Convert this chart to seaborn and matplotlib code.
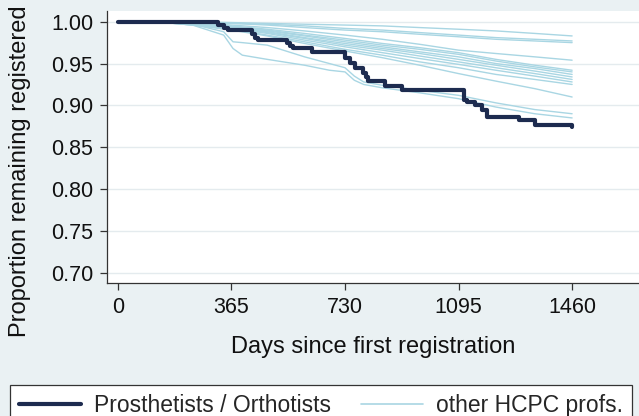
import numpy as np
import pandas as pd
import seaborn as sns
import matplotlib.pyplot as plt
from matplotlib.lines import Line2D

# Kaplan-Meier: Prosthetists / Orthotists (step points)
po_days = [0, 322, 340, 355, 430, 440, 451, 542, 553, 564, 623, 730, 745, 762, 789, 797,
           805, 858, 912, 1111, 1122, 1149, 1170, 1186, 1288, 1341, 1460]
po_surv = [1.0, 0.996, 0.993, 0.990, 0.985, 0.981, 0.978, 0.974, 0.971, 0.968, 0.964, 0.957,
           0.951, 0.945, 0.939, 0.934, 0.929, 0.923, 0.918, 0.906, 0.904, 0.900, 0.894,
           0.886, 0.882, 0.877, 0.874]

# other HCPC professions
grid_days = [0, 120, 240, 365, 480, 600, 730, 850, 970, 1095, 1215, 1340, 1460]
top1 = [1, 1, 1.000, 0.999, 0.998, 0.997, 0.996, 0.995, 0.993, 0.991, 0.989, 0.986, 0.983]
top2 = [1, 1, 0.999, 0.998, 0.997, 0.995, 0.992, 0.990, 0.987, 0.984, 0.981, 0.979, 0.977]
top3 = [1, 1, 0.999, 0.998, 0.996, 0.993, 0.990, 0.988, 0.985, 0.982, 0.979, 0.977, 0.975]
mid0 = [1, 1, 0.999, 0.996, 0.993, 0.989, 0.984, 0.979, 0.973, 0.966, 0.962, 0.958, 0.954]
mid1 = [1, 1, 0.998, 0.995, 0.991, 0.986, 0.980, 0.974, 0.969, 0.963, 0.955, 0.948, 0.942]
mid2 = [1, 1, 0.998, 0.994, 0.990, 0.984, 0.978, 0.972, 0.967, 0.961, 0.953, 0.946, 0.940]
mid3 = [1, 1, 0.998, 0.994, 0.989, 0.983, 0.976, 0.970, 0.964, 0.958, 0.950, 0.944, 0.937]
mid4 = [1, 1, 0.997, 0.993, 0.988, 0.981, 0.974, 0.968, 0.962, 0.955, 0.948, 0.941, 0.934]
mid5 = [1, 1, 0.997, 0.993, 0.987, 0.980, 0.972, 0.966, 0.959, 0.952, 0.945, 0.938, 0.931]
mid6 = [1, 1, 0.997, 0.992, 0.986, 0.978, 0.970, 0.963, 0.956, 0.949, 0.942, 0.935, 0.928]
mid7 = [1, 1, 0.996, 0.991, 0.984, 0.976, 0.967, 0.960, 0.952, 0.945, 0.937, 0.931, 0.925]
mid8 = [1, 1, 0.996, 0.990, 0.983, 0.974, 0.965, 0.957, 0.948, 0.938, 0.929, 0.920, 0.910]

low_days = [0, 120, 240, 340, 370, 400, 480, 600, 680, 730, 760, 790, 850, 970, 1095, 1215, 1340, 1460]
low1 = [1, 1, 0.997, 0.988, 0.976, 0.975, 0.972, 0.958, 0.950, 0.945, 0.935, 0.928, 0.924,
        0.918, 0.912, 0.903, 0.895, 0.890]
low2 = [1, 1, 0.996, 0.984, 0.968, 0.960, 0.955, 0.948, 0.942, 0.940, 0.930, 0.925, 0.921,
        0.915, 0.908, 0.898, 0.890, 0.885]

x_ticks = [0, 365, 730, 1095, 1460]
y_ticks = [0.70, 0.75, 0.80, 0.85, 0.90, 0.95, 1.00]

bg = '#eaf1f3'
navy = '#1d2b4f'
light = '#a9d6e3'

sns.set_theme(style='white')
plt.rcParams['font.family'] = ['Liberation Sans', 'DejaVu Sans']

# langes Format fuer seaborn
frames = []
for i, vals in enumerate([top1, top2, top3, mid0, mid1, mid2, mid3, mid4, mid5, mid6, mid7, mid8]):
    frames.append(pd.DataFrame({'day': grid_days, 'surv': vals, 'curve': i}))
for i, vals in enumerate([low1, low2]):
    frames.append(pd.DataFrame({'day': low_days, 'surv': vals, 'curve': 100 + i}))
others = pd.concat(frames, ignore_index=True)
po = pd.DataFrame({'day': po_days, 'surv': po_surv})

fig = plt.figure(figsize=(6.39, 4.16), dpi=100, facecolor=bg)
ax = fig.add_axes([107 / 639, 1 - 283 / 416, 1 - 107 / 639, (283 - 10.5) / 416])
ax.set_facecolor('white')

sns.lineplot(data=others, x='day', y='surv', units='curve', estimator=None,
             color=light, lw=1.0, ax=ax, legend=False)
sns.lineplot(data=po, x='day', y='surv', color=navy, lw=3.0, drawstyle='steps-post',
             ax=ax, legend=False)

ax.set_xlim(-35, 1675)
ax.set_ylim(0.6877, 1.0134)
ax.set_xticks(x_ticks)
ax.set_yticks(y_ticks)
ax.set_yticklabels([f'{v:.2f}' for v in y_ticks])
ax.yaxis.grid(True, color='#e4ebee', lw=1.0)
ax.set_axisbelow(True)

for s in ['top', 'right']:
    ax.spines[s].set_visible(False)
for s in ['left', 'bottom']:
    ax.spines[s].set_color('#333333')
    ax.spines[s].set_linewidth(0.9)

ax.tick_params(axis='both', which='major', direction='out', length=5, width=0.9,
               color='#333333', labelsize=15.5, labelcolor='#111111', pad=5,
               left=True, bottom=True)
ax.set_xlabel('Days since first registration', fontsize=17, color='#111111', labelpad=13)
ax.set_ylabel('Proportion remaining registered', fontsize=17, color='#111111')
ax.yaxis.set_label_coords(-0.143, 0.41)

handles = [Line2D([], [], color=navy, lw=3.0), Line2D([], [], color=light, lw=1.2)]
leg = fig.legend(handles, ['Prosthetists / Orthotists', 'other HCPC profs.'],
                 loc='upper left', bbox_to_anchor=(10 / 639, 1 - 385 / 416, 622 / 639, 0),
                 mode='expand', ncol=2, fontsize=16.5, frameon=True, fancybox=False,
                 edgecolor='#333333', facecolor='white', framealpha=1,
                 handlelength=2.7, handletextpad=0.55, borderpad=0.4, borderaxespad=0)
leg.get_frame().set_linewidth(0.9)

fig.savefig('out.png', dpi=100, facecolor=bg)
